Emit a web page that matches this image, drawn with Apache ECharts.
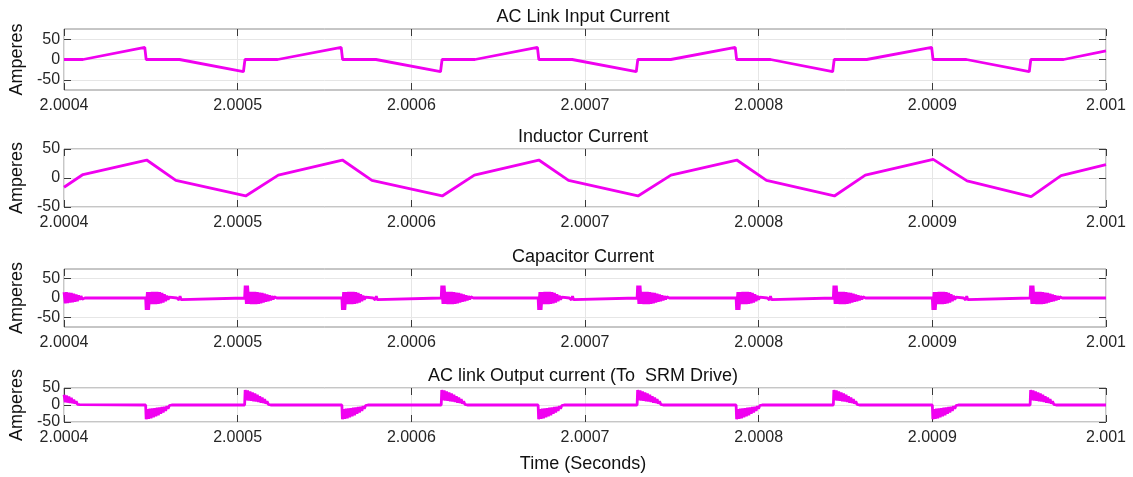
<!DOCTYPE html>
<html>
<head>
<meta charset="utf-8">
<script src="https://cdn.jsdelivr.net/npm/echarts@6/dist/echarts.min.js"></script>
<style>
html,body{margin:0;padding:0;background:#fff;}
#main{width:1133px;height:477px;}
</style>
</head>
<body>
<div id="main"></div>
<script>
// all times are microseconds after t = 2 s  (400 -> 2.0004)
var panelTitles=['AC Link Input Current','Inductor Current','Capacitor Current','AC link Output current (To  SRM Drive)'];
var yLimits=[75,50,75,50];
var yTickVals=[-50,0,50];
var xMin=400,xMax=1000,xStep=100;

// AC link input current (break points)
var inputT=[400,410.9,411.5,446.5,447.3,466.5,467,503.3,504.2,523,523.5,559.6,560.4,579.6,580,616.8,617.7,636.6,637,672.6,673.4,692.6,693,729.5,730.4,749.4,750,786.5,787.3,806.8,807.3,842.6,843.5,862.2,862.7,899.6,900.4,919.6,920,955.8,956.7,975.6,976,1000];
var inputV=[0,0,3,30,0,0,-4,-30,0,0,3,30,0,0,-4,-30,0,0,3,30,0,0,-4,-30,0,0,3,30,0,0,-4,-30,0,0,3,30,0,0,-4,-30,0,0,3,21];

// inductor current
var inductorT=[400,410.9,447.6,464.4,504.6,523.4,560.3,577.3,617.8,636.3,673.4,690.5,730.5,749.5,787.4,804.5,843.6,861.4,900.5,920,956.9,974.1,1000];
var inductorV=[-16,6,31,-4,-31,5,31,-4,-31,5,31,-4,-31,5,31,-4,-31,5,32,-5,-32,4,23];

// switching instants where the ringing starts
var negEdgeT=[447,560,673,787,900];
var posEdgeT=[504,617.2,730,843,956.3];

var capNegOff=[0,0.3,1,1.7,2.4,3.1,3.8,4.5,5.2,5.9,6.6,7.3,8,8.7,9.4,10.1,10.8,11.5,12.2,12.9,13.6,14.3,18,18.6,19.2,19.8,20.4,21];
var capNegV=[0,-31,15,-31,15,-16,16,-16,16,-16,16,-15,15,-14,13,-12,10,-8,6,-4,2,0,0,5,-5,5,-4,0];
var capPosOff=[0,0.3,1,1.7,2.4,3.1,3.8,4.5,5.2,5.9,6.6,7.3,8,8.7,9.4,10.1,10.8,11.5,12.2,12.9,13.6,14.3,15,15.7,16.4,17.1,17.8,18.5];
var capPosV=[0,32,-15,32,-15,16,-16,16,-16,16,-16,15,-15,14,-14,13,-12,11,-10,9,-8,7,-6,5,-4,3,-2,0];
var capStartT=[400,400.7,401.4,402.1,402.8,403.5,404.2,404.9,405.6,406.3,407,407.7,408.4,409.1,409.8,410.5,411.2,412];
var capStartV=[15,-14,15,-13,14,-12,13,-11,11,-10,9,-8,7,-5,5,-3,2,0];

// AC link output current bursts
var outNegOff=[0,0.3,1,1.7,2.4,3.1,3.8,4.5,5.2,5.9,6.6,7.3,8,8.7,9.4,10.1,10.8,11.5,12.2,12.9,13.6,14.3,15];
var outNegV=[0,-42,-12,-41,-11,-39,-10,-36,-9,-33,-8,-30,-7,-26,-6,-22,-5,-17,-3,-11,-2,-5,0];
var outPosOff=[0,0.3,1,1.7,2.4,3.1,3.8,4.5,5.2,5.9,6.6,7.3,8,8.7,9.4,10.1,10.8,11.5,12.2,12.9,13.6,14.3,15];
var outPosV=[0,44,14,43,13,40,12,37,11,34,10,30,9,26,7,22,6,17,4,11,2,5,0];
var outStartT=[400,400.7,401.4,402.1,402.8,403.5,404.2,404.9,405.6,406.3,407,407.7,408.4,409.1,410];
var outStartV=[30,8,28,7,25,6,21,5,16,4,11,2,6,1,0];

function pairs(t,v){
  var d=[];
  for(var i=0;i<t.length;i++) d.push([t[i],v[i]]);
  return d;
}
function withBursts(startT,startV,negOff,negV,posOff,posV){
  var d=pairs(startT,startV);
  var ev=[];
  negEdgeT.forEach(function(t){ev.push({t:t,off:negOff,v:negV});});
  posEdgeT.forEach(function(t){ev.push({t:t,off:posOff,v:posV});});
  ev.sort(function(a,b){return a.t-b.t;});
  ev.forEach(function(e){
    for(var k=0;k<e.off.length;k++) d.push([e.t+e.off[k],e.v[k]]);
  });
  d.push([xMax,0]);
  return d;
}

var traces=[
  pairs(inputT,inputV),
  pairs(inductorT,inductorV),
  withBursts(capStartT,capStartV,capNegOff,capNegV,capPosOff,capPosV),
  withBursts(outStartT,outStartV,outNegOff,outNegV,outPosOff,outPosV)
];

var tops=[29,149,269,388];
var heights=[61,58,58,34];
var titleTops=[8,128,248,367];
var font='Liberation Sans, Arial, sans-serif';
var gridCol='#e6e6e6',tickCol='#3a3a3a',txtCol='#262626';

var grids=[],xAxes=[],yAxes=[],series=[],titles=[];
for(var i=0;i<4;i++){
  grids.push({left:61,right:27,top:tops[i],height:heights[i],show:true,borderColor:'#8c8c8c',borderWidth:1});
  titles.push({text:panelTitles[i],left:583,top:titleTops[i],textAlign:'center',padding:0,
    textStyle:{fontSize:18,fontWeight:'normal',color:'#111',fontFamily:font}});
  xAxes.push({type:'value',gridIndex:i,min:xMin,max:xMax,interval:xStep,
    axisLine:{show:false,onZero:false},
    axisTick:{inside:true,length:7,lineStyle:{color:tickCol}},
    axisLabel:{margin:8,fontSize:16,color:txtCol,fontFamily:font,
      formatter:function(v){return ((2e6+v)/1e6).toString();}},
    splitLine:{show:true,lineStyle:{color:gridCol}}});
  xAxes.push({type:'value',gridIndex:i,position:'top',min:xMin,max:xMax,interval:xStep,
    axisLine:{show:false,onZero:false},
    axisTick:{inside:true,length:7,lineStyle:{color:tickCol}},
    axisLabel:{show:false},splitLine:{show:false}});
  yAxes.push({type:'value',gridIndex:i,min:-yLimits[i],max:yLimits[i],
    name:'Amperes',nameLocation:'middle',nameGap:27,
    nameTextStyle:{fontSize:18,color:'#111',fontFamily:font},
    axisLine:{show:false,onZero:false},
    axisTick:{inside:true,length:7,customValues:yTickVals,lineStyle:{color:tickCol}},
    axisLabel:{customValues:yTickVals,margin:4,fontSize:16,color:txtCol,fontFamily:font,showMinLabel:true,showMaxLabel:true},
    splitLine:{show:true,lineStyle:{color:gridCol}}});
  yAxes.push({type:'value',gridIndex:i,position:'right',min:-yLimits[i],max:yLimits[i],
    axisLine:{show:false,onZero:false},
    axisTick:{inside:true,length:7,customValues:yTickVals,lineStyle:{color:tickCol}},
    axisLabel:{show:false},splitLine:{show:false}});
  series.push({type:'line',xAxisIndex:2*i,yAxisIndex:2*i,data:traces[i],
    showSymbol:false,symbol:'none',animation:false,
    lineStyle:{color:'#f000f0',width:2.8}});
}
titles.push({text:'Time (Seconds)',left:583,top:455,textAlign:'center',padding:0,
  textStyle:{fontSize:18,fontWeight:'normal',color:'#111',fontFamily:font}});

var myChart=echarts.init(document.getElementById('main'),null,{renderer:'canvas'});
myChart.setOption({
  animation:false,
  backgroundColor:'#fff',
  title:titles,
  grid:grids,
  xAxis:xAxes,
  yAxis:yAxes,
  series:series
});
</script>
</body>
</html>
